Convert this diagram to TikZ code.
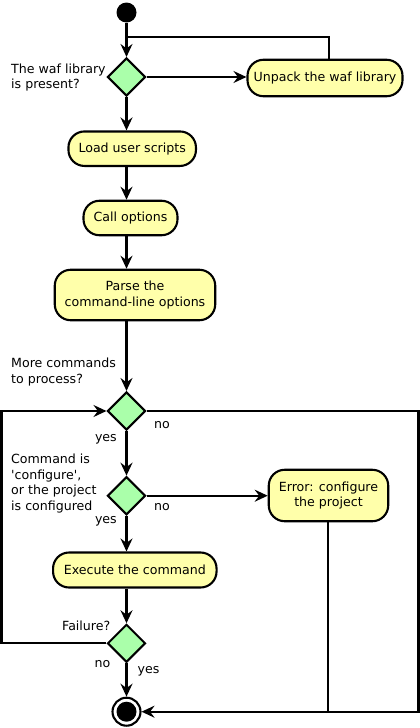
\documentclass[tikz,border=0pt]{standalone}
\usepackage{fontspec}
\setmainfont{DejaVu Sans}
\usetikzlibrary{shapes.geometric,arrows.meta}
\definecolor{boxfill}{HTML}{FFFFAA}
\definecolor{decfill}{HTML}{AAFFAA}
\begin{document}
\begin{tikzpicture}[x=1pt,y=-1pt,
  every node/.style={font=\fontsize{12.6}{15.7}\selectfont},
  conn/.style={line width=2.1pt,-{Stealth[length=13pt,width=12pt,inset=4.5pt]}},
  plainline/.style={line width=2.1pt},
  actbox/.style={draw,line width=2.1pt,fill=boxfill,rounded corners=16pt,inner sep=0pt,align=center},
  decbox/.style={draw,line width=2.1pt,fill=decfill,diamond,inner sep=0pt,minimum width=38pt,minimum height=38pt},
  lab/.style={inner sep=0pt,align=left}]
\useasboundingbox (0,0) rectangle (420,728);
% nodes
\node[circle,fill=black,inner sep=0pt,minimum size=20pt] (start) at (126.5,12.5) {};
\node[decbox] (d1) at (126.5,77) {};
\node[actbox,minimum width=155pt,minimum height=36.5pt] (unpack) at (325,78) {Unpack the waf library};
\node[actbox,minimum width=127.5pt,minimum height=34.5pt] (load) at (132.2,148.7) {Load user scripts};
\node[actbox,minimum width=94pt,minimum height=34.5pt] (call) at (130.5,218) {Call options};
\node[actbox,minimum width=160.5pt,minimum height=50.5pt] (parse) at (135,295) {Parse the\\command-line options};
\node[decbox] (d2) at (126.5,411) {};
\node[decbox] (d3) at (126.5,495.7) {};
\node[actbox,minimum width=119.5pt,minimum height=51.5pt] (error) at (328.5,495.5) {Error: configure\\the project};
\node[actbox,minimum width=163.5pt,minimum height=35pt] (exec) at (134.8,570) {Execute the command};
\node[decbox] (d4) at (126.5,643.3) {};
\node[circle,draw,line width=2.1pt,fill=white,inner sep=0pt,minimum size=28pt] (end) at (126.5,711.7) {};
\node[circle,fill=black,inner sep=0pt,minimum size=20pt] (endin) at (end.center) {};
% labels
\node[lab,anchor=west] (l1) at (11,77.5) {The waf library\\is present?};
\node[lab,anchor=west] (l2) at (11,372) {More commands\\to process?};
\node[lab,anchor=west] (l3) at (11,483.5) {Command is\\\textquotesingle configure\textquotesingle,\\or the project\\is configured};
\node[lab,anchor=mid west] (n2) at (154,426) {no};
\node[lab,anchor=mid east] (y2) at (117,439) {yes};
\node[lab,anchor=mid west] (n3) at (154,508) {no};
\node[lab,anchor=mid east] (y3) at (117,520.5) {yes};
\node[lab,anchor=mid east] (fl) at (110.5,627.5) {Failure?};
\node[lab,anchor=mid east] (n4) at (110.5,665) {no};
\node[lab,anchor=mid west] (y4) at (137.5,671) {yes};
% coordinates
\coordinate (j1) at (126.5,37);
\coordinate (u1) at (329,37);
\coordinate (cl) at (1.5,411);
\coordinate (cr) at (418.5,411);
\coordinate (el) at (328,711.7);
% connectors
\draw[conn] (start) -- (d1.north);
\draw[plainline] (u1 |- unpack.north) -- (u1) -- (j1);
\draw[conn] (d1.east) -- (d1.east -| unpack.west);
\draw[conn] (d1.south) -- (d1.south |- load.north);
\draw[conn] (d1.south |- load.south) -- (d1.south |- call.north);
\draw[conn] (d1.south |- call.south) -- (d1.south |- parse.north);
\draw[conn] (d1.south |- parse.south) -- (d2.north);
\draw[conn] (d2.south) -- (d3.north);
\draw[conn] (d3.east) -- (d3.east -| error.west);
\draw[conn] (d3.south) -- (d3.south |- exec.north);
\draw[conn] (d3.south |- exec.south) -- (d4.north);
\draw[conn] (d4.south) -- (end.north);
\draw[conn] (d4.west) -- (d4.west -| cl) -- (cl) -- (d2.west);
\draw[conn] (d2.east) -- (cr) -- (cr |- end.east) -- (end.east);
\draw[plainline] (el |- error.south) -- (el);
\end{tikzpicture}
\end{document}
